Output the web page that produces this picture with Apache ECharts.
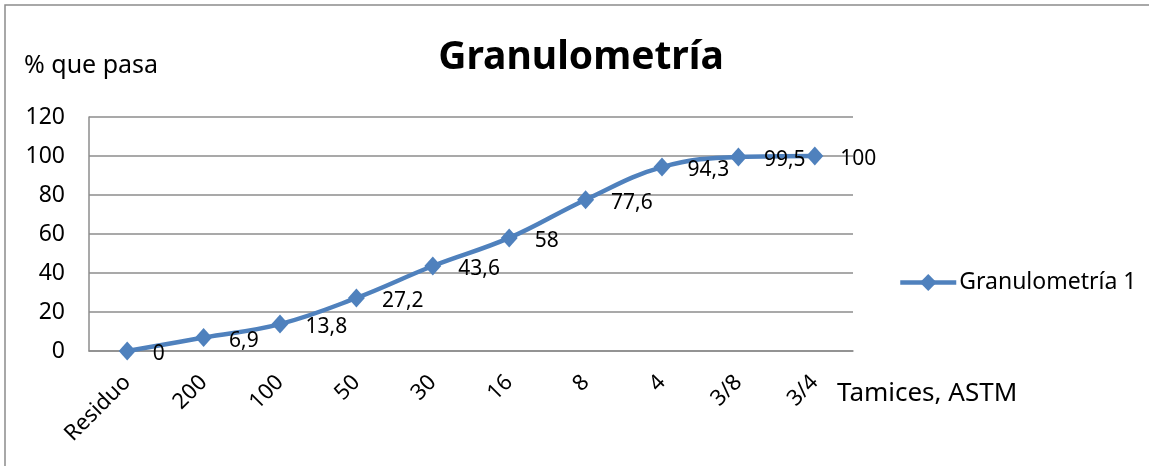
<!DOCTYPE html>
<html>
<head>
<meta charset="utf-8">
<script src="https://cdn.jsdelivr.net/npm/echarts@6/dist/echarts.min.js"></script>
<style>
  html, body { margin: 0; padding: 0; background: #fff; }
  #chart { width: 1149px; height: 466px; }
</style>
</head>
<body>
<div id="chart"></div>
<script>
// Sieve sizes (ASTM) and cumulative percent passing
const sieves = ['Residuo', '200', '100', '50', '30', '16', '8', '4', '3/8', '3/4'];
const passing = [0, 6.9, 13.8, 27.2, 43.6, 58, 77.6, 94.3, 99.5, 100];
const seriesName = 'Granulometría 1';
const yTicks = { min: 0, max: 120, interval: 20 };

const FONT = '"Noto Sans", "Open Sans", sans-serif';
const BLUE = '#4F81BD';
const GRID_GREY = '#8C8C8C';

const chart = echarts.init(document.getElementById('chart'));
chart.setOption({
  animation: false,
  textStyle: { fontFamily: FONT },
  title: {
    text: 'Granulometría',
    left: 576, top: 33, textAlign: 'center',
    textStyle: { fontFamily: FONT, fontSize: 39, fontWeight: 'bold', color: '#000' }
  },
  graphic: [
    { type: 'rect', shape: { x: 5, y: 5, width: 1200, height: 500 },
      style: { fill: 'none', stroke: '#8C8C8C', lineWidth: 1.5 }, silent: true },
    { type: 'text', silent: true,
      style: { x: 24, y: 66, text: '% que pasa', fontSize: 25, fontFamily: FONT,
               fill: '#000', align: 'left', verticalAlign: 'middle' } },
    { type: 'text', silent: true,
      style: { x: 837, y: 394, text: 'Tamices, ASTM', fontSize: 26, fontFamily: FONT,
               fill: '#000', align: 'left', verticalAlign: 'middle' } }
  ],
  legend: {
    left: 893, top: 266,
    itemWidth: 56, itemHeight: 21, itemGap: 4,
    lineStyle: { width: 4.5 },
    textStyle: { fontFamily: FONT, fontSize: 23, color: '#000', padding: [0, 0, 0, -2] },
    data: [seriesName]
  },
  grid: { left: 89, right: 296, top: 117, bottom: 115, containLabel: false },
  xAxis: {
    type: 'category',
    data: sieves,
    boundaryGap: true,
    axisLine: { show: true, lineStyle: { color: GRID_GREY, width: 1.5 } },
    axisTick: { show: false },
    axisLabel: { rotate: 45, margin: 28, fontSize: 22, color: '#000', fontFamily: FONT, interval: 0 },
    splitLine: { show: false }
  },
  yAxis: {
    type: 'value',
    min: yTicks.min, max: yTicks.max, interval: yTicks.interval,
    axisLine: { show: true, lineStyle: { color: GRID_GREY, width: 1.5 } },
    axisTick: { show: false },
    axisLabel: { margin: 24, fontSize: 23, color: '#000', fontFamily: FONT },
    splitLine: { show: true, lineStyle: { color: GRID_GREY, width: 1.5 } }
  },
  series: [{
    name: seriesName,
    type: 'line',
    data: passing,
    smooth: 0.4,
    symbol: 'diamond',
    symbolSize: [17, 19],
    lineStyle: { color: BLUE, width: 4.5 },
    itemStyle: { color: BLUE },
    label: {
      show: true,
      position: 'right',
      distance: 17,
      offset: [0, 3],
      fontSize: 21,
      color: '#000',
      fontFamily: FONT,
      formatter: p => String(p.value).replace('.', ',')
    }
  }]
});
</script>
</body>
</html>
